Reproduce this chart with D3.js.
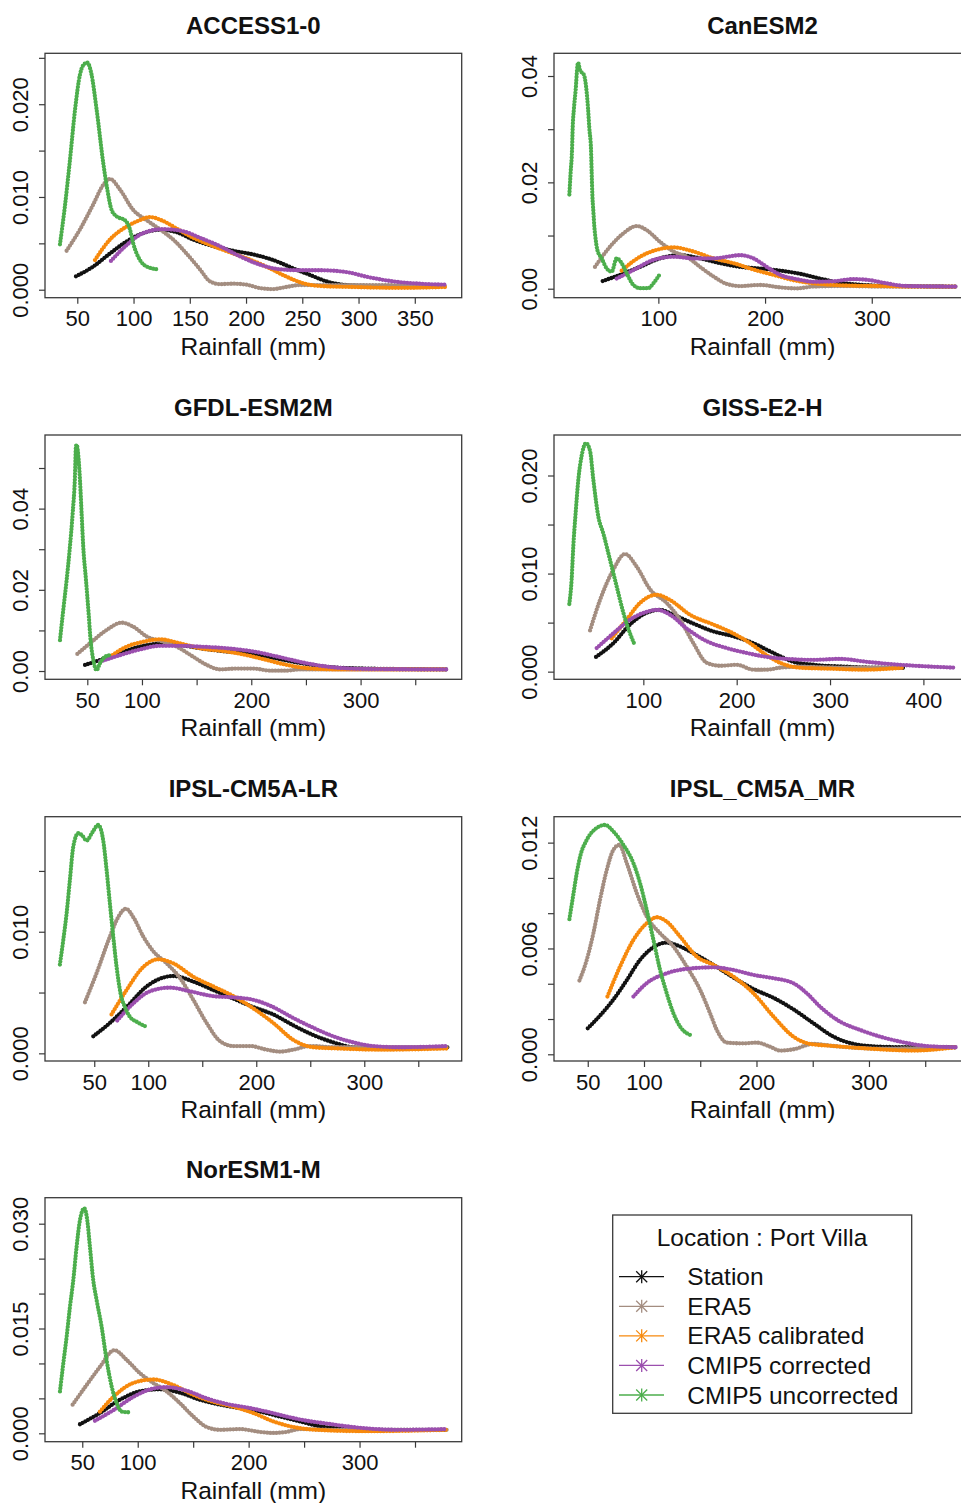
<!DOCTYPE html>
<html>
<head>
<meta charset="utf-8">
<script src="https://cdn.jsdelivr.net/npm/d3@7"></script>
<style>
  html, body { margin: 0; padding: 0; background: #fff; }
  svg { display: block; font-family: "Liberation Sans", Arial, Helvetica, sans-serif; }
</style>
</head>
<body>
<svg id="chart" width="961" height="1503"></svg>
<script>
// Monthly rainfall density curves, Port Villa: [rainfall (mm), density]

// ACCESS1-0
const accessStation = [[48.8,0.00144],[64.2,0.0025],[79,0.0039],[93.8,0.0052],[108.6,0.0061],[123.4,0.00646],[138.2,0.0062],[153,0.0054],[170.8,0.0047],[188.6,0.0042],[206.4,0.0038],[224.1,0.0032],[241.9,0.0023],[256.7,0.0016],[271.5,0.0009],[289.3,0.0005],[321.8,0.0004],[351.5,0.00047],[378,0.00047]];
const accessEra5 = [[40.5,0.0042],[52.4,0.0065],[64.2,0.0092],[73.1,0.0113],[79,0.01195],[87.9,0.0108],[99.7,0.0086],[111.6,0.0075],[123.4,0.0065],[135.3,0.0054],[147.1,0.0039],[159,0.0022],[167.9,0.0009],[176.7,0.0006],[188.6,0.00065],[200.4,0.00054],[212.3,0.00018],[224.1,0.00007],[236,0.0003],[247.8,0.0005],[300,0.0005],[378,0.0004]];
const accessEra5Cal = [[65.7,0.0032],[79,0.0054],[93.8,0.0068],[105.7,0.0075],[114.6,0.00783],[126.4,0.0074],[138.2,0.0066],[153,0.0056],[170.8,0.0047],[188.6,0.0039],[206.4,0.0031],[221.2,0.0023],[236,0.0014],[250.8,0.0007],[265.6,0.0004],[292.2,0.0003],[336.6,0.0002],[378,0.0003]];
const accessCorr = [[79.9,0.0031],[93.8,0.0048],[108.6,0.0061],[126.4,0.00653],[144.2,0.0063],[159,0.0056],[176.7,0.0047],[194.5,0.0036],[212.3,0.0027],[230,0.0022],[247.8,0.0021],[265.6,0.0021],[289.3,0.0019],[307.1,0.0014],[330.7,0.0009],[354.4,0.00065],[378,0.00054]];
const accessUncorr = [[34.6,0.0049],[39,0.009],[43.5,0.014],[48,0.0194],[52.4,0.0232],[55.3,0.0242],[58.9,0.02448],[62.5,0.0233],[67.2,0.0194],[73.1,0.01364],[76.7,0.0108],[80.5,0.0086],[85,0.0079],[92.3,0.0075],[96.8,0.0065],[99.7,0.005],[105.7,0.0032],[111.6,0.0025],[121.1,0.0022]];

// CanESM2
const canStation = [[47.8,0.00144],[64,0.0026],[82.8,0.0041],[101.6,0.0057],[120.3,0.0063],[139.1,0.0057],[157.8,0.0048],[176.6,0.0041],[195.3,0.0038],[214.1,0.0034],[232.8,0.0028],[251.6,0.0019],[270.3,0.0011],[292.2,0.0007],[323.4,0.0005],[379,0.0004]];
const canEra5 = [[40.6,0.0041],[54.7,0.0079],[67.2,0.0104],[79.7,0.01179],[89.1,0.011],[101.6,0.0088],[114.1,0.007],[126.6,0.006],[139.1,0.0041],[151.6,0.0023],[164.1,0.0009],[176.6,0.0005],[195.3,0.0007],[214.1,0.00025],[229.7,0.00006],[245.3,0.0004],[276.6,0.0005],[307.8,0.0004],[379,0.0004]];
const canEra5Cal = [[65.6,0.0034],[82.8,0.006],[98.4,0.0073],[114.1,0.00777],[132.8,0.007],[151.6,0.0057],[170.3,0.0048],[189.1,0.0036],[207.8,0.0026],[226.6,0.0016],[245.3,0.001],[276.6,0.0006],[307.8,0.0005],[339,0.0004],[379,0.0004]];
const canCorr = [[60.9,0.0019],[76.6,0.0035],[95.3,0.0054],[114.1,0.006],[132.8,0.0057],[151.6,0.0057],[164.1,0.006],[176.6,0.0063],[189.1,0.0057],[201.6,0.0041],[214.1,0.0026],[229.7,0.0018],[245.3,0.0013],[264.1,0.0014],[282.8,0.0018],[298.4,0.0016],[314.1,0.001],[332.8,0.0005],[379,0.0004]];
const canUncorr = [[16.6,0.0177],[17.8,0.0219],[19.1,0.0261],[19.7,0.0302],[20.9,0.0339],[22.5,0.0374],[24.1,0.0418],[24.7,0.0425],[26.6,0.0411],[30.3,0.0402],[32.8,0.037],[34.1,0.0339],[35.3,0.0302],[36.9,0.0261],[37.5,0.0219],[38.1,0.0179],[39.1,0.0145],[40,0.0117],[41.3,0.0092],[42.8,0.0073],[46.9,0.0057],[51.6,0.0038],[56.3,0.0032],[60.9,0.0057],[65.6,0.0048],[70.3,0.0029],[76.6,0.0007],[82.8,0.0001],[90.6,0.0001],[95.3,0.001],[101.6,0.0028]];

// GFDL-ESM2M
const gfdlStation = [[47.9,0.0015],[61.6,0.0027],[79.9,0.0044],[98.2,0.006],[116.5,0.0067],[134.8,0.0064],[153.1,0.0056],[177.5,0.0048],[201.9,0.0042],[226.3,0.0029],[250.7,0.0017],[275.1,0.0009],[305.6,0.0006],[378.8,0.0004]];
const gfdlEra5 = [[40.9,0.0042],[52.4,0.0068],[67.7,0.0101],[81.4,0.0119],[92.1,0.0109],[104.3,0.0085],[119.5,0.0072],[131.7,0.006],[146.9,0.0035],[159.2,0.0015],[171.4,0.0004],[186.6,0.0006],[201.9,0.0006],[217.1,0.0001],[232.4,0.0001],[244.6,0.0004],[275,0.0004],[378.8,0.0004]];
const gfdlEra5Cal = [[70.7,0.0035],[86,0.006],[101.2,0.0072],[116.5,0.0078],[134.8,0.0068],[153.1,0.0056],[177.5,0.0048],[195.8,0.0039],[214.1,0.0027],[232.4,0.0015],[250.7,0.0007],[275.1,0.0004],[378.8,0.0004]];
const gfdlCorr = [[61.6,0.0023],[79.9,0.0039],[98.2,0.0053],[116.5,0.0062],[134.8,0.0062],[153.1,0.006],[177.5,0.0056],[201.9,0.0048],[226.3,0.0034],[250.7,0.0019],[275.1,0.0009],[305.6,0.0005],[378.8,0.0004]];
const gfdlUncorr = [[25,0.0076],[28,0.015],[31.1,0.0224],[34.1,0.0306],[36.6,0.0388],[38.7,0.0479],[39.6,0.0553],[40.2,0.0557],[42.1,0.052],[43.3,0.047],[44.8,0.0388],[46.3,0.0306],[48.8,0.0224],[51.2,0.0142],[53,0.0076],[55.5,0.0027],[58.5,0.0002],[61.6,0.0019],[66.2,0.0035],[70.7,0.0039]];

// GISS-E2-H
const gissStation = [[49.3,0.0015],[67.9,0.0029],[85.7,0.0048],[103.6,0.006],[117.9,0.0063],[132.1,0.0058],[153.6,0.0049],[175,0.0041],[196.4,0.0036],[217.9,0.0029],[239.3,0.0019],[260.7,0.001],[282.1,0.0007],[317.9,0.0005],[353.6,0.0004],[378.6,0.0004]];
const gissEra5 = [[42.9,0.0042],[53.6,0.0073],[67.9,0.0104],[80.4,0.012],[92.9,0.0107],[107.1,0.0084],[125,0.007],[139.3,0.0053],[153.6,0.0029],[167.9,0.0009],[182.1,0.0006],[200,0.0007],[217.9,0.0002],[232.1,0.0002],[246.4,0.0004],[267.9,0.0005],[317.9,0.0004],[378.6,0.0004]];
const gissEra5Cal = [[66.1,0.0034],[82.1,0.0053],[96.4,0.007],[114.3,0.00784],[128.6,0.0073],[150,0.0058],[175,0.0048],[196.4,0.0039],[214.3,0.0029],[228.6,0.0019],[246.4,0.0009],[267.9,0.0004],[300,0.0003],[335.7,0.0002],[378.6,0.0004]];
const gissCorr = [[50,0.0024],[67.9,0.0039],[85.7,0.0053],[103.6,0.0061],[114.3,0.0063],[128.6,0.0058],[146.4,0.0044],[167.9,0.0031],[189.3,0.0024],[210.7,0.0019],[232.1,0.0015],[253.6,0.0013],[282.1,0.0012],[310.7,0.0013],[339.3,0.001],[375,0.0007],[435,0.0004]];
const gissUncorr = [[20.7,0.0069],[23.2,0.0094],[25,0.0128],[27.5,0.0162],[30.4,0.0196],[33.9,0.022],[38.6,0.0233],[42.9,0.0225],[46.4,0.0196],[51.8,0.0158],[57.1,0.0141],[64.3,0.0114],[71.4,0.0087],[78.6,0.006],[85.7,0.0039],[90,0.0029]];

// IPSL-CM5A-LR
const ipslLrStation = [[49.1,0.0014],[64.5,0.0025],[79.9,0.0038],[98.5,0.0055],[117,0.0063],[123.1,0.00636],[141.7,0.0059],[160.2,0.0052],[178.7,0.0045],[197.2,0.0038],[215.7,0.0032],[234.3,0.0023],[252.8,0.0015],[271.3,0.0009],[289.8,0.0005],[317.6,0.0004],[377.8,0.0005]];
const ipslLrEra5 = [[41.4,0.0042],[52.2,0.0066],[64.5,0.0096],[72.2,0.0112],[79.3,0.0119],[86.1,0.0112],[95.4,0.0096],[104.6,0.0084],[117,0.0074],[129.3,0.0062],[141.7,0.0044],[154,0.0025],[166.4,0.001],[178.7,0.0006],[194.1,0.0006],[209.6,0.0003],[221.9,0.00014],[234.3,0.0003],[249.7,0.0006],[271.3,0.0005],[377.8,0.0005]];
const ipslLrEra5Cal = [[66,0.0032],[79.9,0.0052],[95.4,0.0071],[109.3,0.00773],[123.1,0.0074],[141.7,0.0063],[160.2,0.0055],[178.7,0.0047],[197.2,0.0037],[215.7,0.0025],[234.3,0.0011],[252.8,0.0005],[275.5,0.0004],[315.6,0.0003],[377.8,0.0004]];
const ipslLrCorr = [[71.3,0.0027],[86.1,0.0041],[101.5,0.0051],[120.1,0.0054],[138.6,0.0051],[160.2,0.0047],[178.7,0.0046],[197.2,0.0044],[215.7,0.0038],[234.3,0.0029],[252.8,0.0021],[271.3,0.0014],[289.8,0.0009],[308.3,0.0006],[333,0.0005],[377.8,0.0006]];
const ipslLrUncorr = [[18.2,0.0073],[21.3,0.0093],[24.4,0.0115],[27.5,0.0143],[30.6,0.017],[35.2,0.0181],[39,0.0179],[42.9,0.0175],[48.5,0.0182],[53.7,0.01878],[58.3,0.0175],[61.4,0.0151],[64.5,0.0123],[67.6,0.0096],[70.7,0.0071],[74.4,0.0049],[78.4,0.0038],[83,0.003],[89.2,0.0026],[97.8,0.0022]];

// IPSL_CM5A_MR
const ipslMrStation = [[50,0.00147],[61,0.0022],[72.8,0.0031],[84.7,0.0042],[96.5,0.00535],[108.4,0.00607],[120.2,0.00633],[132.1,0.00611],[143.9,0.00573],[161.7,0.00507],[179.5,0.00435],[197.3,0.0037],[215.1,0.0032],[232.8,0.00255],[250.6,0.00176],[268.4,0.001],[286.2,0.00059],[309.9,0.00043],[339.5,0.0004],[377.5,0.0004]];
const ipslMrEra5 = [[42.6,0.00418],[49.1,0.00535],[55,0.00686],[60.9,0.00875],[66.9,0.01045],[72.8,0.01159],[78.1,0.01187],[84.7,0.01083],[93.6,0.00913],[102.4,0.00781],[114.3,0.00686],[126.1,0.00611],[138,0.00497],[149.9,0.00365],[158.7,0.00233],[164.7,0.00138],[173.6,0.00066],[188.4,0.00062],[200.2,0.00066],[212.1,0.00043],[221,0.00021],[232.8,0.00028],[250.6,0.00059],[268.4,0.00047],[309.9,0.00032],[377.5,0.0004]];
const ipslMrEra5Cal = [[67.5,0.00327],[78.7,0.00497],[90.6,0.00648],[102.4,0.00743],[111.3,0.00777],[120.2,0.00752],[132.1,0.00667],[146.9,0.00554],[161.7,0.00507],[179.5,0.0044],[197.3,0.00346],[215.1,0.00214],[232.8,0.001],[247.6,0.00059],[268.4,0.00047],[295,0.00034],[339.5,0.00021],[377.5,0.0004]];
const ipslMrCorr = [[90.6,0.00327],[102.4,0.00403],[120.2,0.00459],[143.9,0.00488],[161.7,0.00493],[179.5,0.00478],[197.3,0.0045],[215.1,0.00431],[232.8,0.00403],[244.7,0.00346],[256.5,0.0027],[274.3,0.00185],[292.1,0.00138],[309.9,0.001],[327.6,0.00072],[351.3,0.00047],[377.5,0.0004]];
const ipslMrUncorr = [[33.7,0.00766],[37.3,0.0091],[40.2,0.01026],[43.2,0.0112],[49.1,0.01215],[56.5,0.01276],[65.4,0.013],[72.8,0.01263],[81.7,0.01187],[90.6,0.01083],[96.5,0.0097],[102.4,0.00819],[108.4,0.00648],[114.3,0.00478],[120.2,0.00346],[126.1,0.00233],[132.1,0.00157],[143.3,0.00104]];

// NorESM1-M
const norStation = [[47.9,0.0013],[65.9,0.0029],[83.9,0.0048],[102,0.006],[120,0.0063],[138.1,0.0058],[156.1,0.0048],[174.1,0.0041],[192.2,0.0036],[210.2,0.0031],[228.2,0.0024],[246.3,0.0017],[264.3,0.001],[282.3,0.0007],[306.4,0.0005],[378.5,0.0005]];
const norEra5 = [[41.3,0.0041],[53.9,0.0069],[65.9,0.0095],[78.9,0.0119],[90,0.0105],[102,0.0086],[114,0.0072],[126,0.006],[138.1,0.0043],[150.1,0.0024],[162.1,0.0009],[174.1,0.0005],[192.2,0.0006],[210.2,0.0002],[222.2,0.00005],[234.2,0.0002],[246.3,0.0006],[276.3,0.0005],[378.5,0.0005]];
const norEra5Cal = [[65.9,0.0031],[78,0.0052],[96,0.0072],[114,0.0077],[132.1,0.0069],[150.1,0.0055],[168.1,0.0045],[186.2,0.0038],[204.2,0.0029],[222.2,0.0017],[240.3,0.0009],[261.3,0.0005],[306.4,0.0003],[378.5,0.0005]];
const norCorr = [[61.4,0.0018],[78,0.0033],[96,0.0052],[114,0.0064],[126,0.0066],[144.1,0.0061],[162.1,0.005],[180.2,0.0042],[198.2,0.0037],[216.2,0.0031],[234.2,0.0024],[252.3,0.0018],[270.3,0.0014],[288.4,0.001],[306.4,0.0007],[336.5,0.0005],[378.5,0.0006]];
const norUncorr = [[29.9,0.006],[32.9,0.01],[35.9,0.0138],[38.9,0.0181],[41.9,0.0219],[44.9,0.0267],[47.9,0.0305],[51.8,0.0322],[54.5,0.0305],[56.9,0.0267],[59.9,0.0219],[62.9,0.0191],[67.4,0.0153],[71.9,0.0105],[76.5,0.0067],[81,0.0043],[85.5,0.0031],[93.6,0.003]];

// Series names and colours (legend order)
const seriesNames = ["Station", "ERA5", "ERA5 calibrated", "CMIP5 corrected", "CMIP5 uncorrected"];
const seriesColors = ["#111111", "#a38d80", "#f7890c", "#9b4fae", "#4cae4c"];

// Panel titles and tick values
const panelTitles = ["ACCESS1-0", "CanESM2", "GFDL-ESM2M", "GISS-E2-H", "IPSL-CM5A-LR", "IPSL_CM5A_MR", "NorESM1-M"];
const xTickSets = [
  [50,100,150,200,250,300,350], [100,200,300], [50,100,150,200,250,300,350],
  [100,200,300,400], [50,100,150,200,250,300,350], [50,100,150,200,250,300,350], [50,100,150,200,250,300,350]
];
const xLabelSets = [
  [50,100,150,200,250,300,350], [100,200,300], [50,100,200,300],
  [100,200,300,400], [50,100,200,300], [50,100,200,300], [50,100,200,300]
];
const yTickSets = [
  [0,0.005,0.01,0.015,0.02,0.025], [0,0.01,0.02,0.03,0.04], [0,0.01,0.02,0.03,0.04,0.05],
  [0,0.005,0.01,0.015,0.02], [0,0.005,0.01,0.015], [0,0.002,0.004,0.006,0.008,0.01,0.012], [0,0.005,0.01,0.015,0.02,0.025,0.03]
];
const yLabelSets = [
  [0,0.01,0.02], [0,0.02,0.04], [0,0.02,0.04],
  [0,0.01,0.02], [0,0.01], [0,0.006,0.012], [0,0.015,0.03]
];
const yDecimals = [3, 2, 2, 3, 3, 3, 3];

// Series per panel, drawn in this order (station first, uncorrected model on top)
const panelSeries = [
  [accessStation, accessEra5, accessEra5Cal, accessCorr, accessUncorr],
  [canStation, canEra5, canEra5Cal, canCorr, canUncorr],
  [gfdlStation, gfdlEra5, gfdlEra5Cal, gfdlCorr, gfdlUncorr],
  [gissStation, gissEra5, gissEra5Cal, gissCorr, gissUncorr],
  [ipslLrStation, ipslLrEra5, ipslLrEra5Cal, ipslLrCorr, ipslLrUncorr],
  [ipslMrStation, ipslMrEra5, ipslMrEra5Cal, ipslMrCorr, ipslMrUncorr],
  [norStation, norEra5, norEra5Cal, norCorr, norUncorr]
];

// Axis ranges (plot region extends a little beyond the data)
const xRanges = [[21.3,391.7],[2.2,393],[11.3,392.5],[4.3,451],[4.4,390.2],[20,390.7],[16.4,392.1]];
const yRanges = [[-0.00086,0.02549],[-0.00169,0.04427],[-0.00204,0.05813],[-0.00078,0.02413],[-0.00063,0.01946],[-0.00038,0.01347],[-0.0012,0.03372]];

// ---- layout ----
const colX = [[45, 461.7], [554, 971]];
const rowY = [[53.3, 297.7], [435, 679.3], [816.7, 1061], [1197.7, 1441.7]];
const frameColor = "#3a3a3a";
const textColor = "#111";

const svg = d3.select("#chart");
svg.append("rect").attr("width", 961).attr("height", 1503).attr("fill", "#fff");

panelTitles.forEach((title, i) => {
  const [x0, x1] = colX[i % 2];
  const [y0, y1] = rowY[Math.floor(i / 2)];
  const x = d3.scaleLinear().domain(xRanges[i]).range([x0, x1]);
  const y = d3.scaleLinear().domain(yRanges[i]).range([y1, y0]);
  const g = svg.append("g");

  const clipId = "clip" + i;
  g.append("clipPath").attr("id", clipId)
    .append("rect").attr("x", x0).attr("y", y0).attr("width", x1 - x0).attr("height", y1 - y0);

  // curves drawn as chains of round dots
  const line = d3.line().x(d => x(d[0])).y(d => y(d[1])).curve(d3.curveMonotoneX);
  const curves = g.append("g").attr("clip-path", `url(#${clipId})`);
  panelSeries[i].forEach((data, s) => {
    curves.append("path")
      .attr("d", line(data))
      .attr("fill", "none")
      .attr("stroke", seriesColors[s])
      .attr("stroke-width", 4.3)
      .attr("stroke-linecap", "round")
      .attr("stroke-dasharray", "0 3.1");
  });

  // x axis
  const xAxis = d3.axisBottom(x).tickValues(xTickSets[i]).tickSize(6).tickPadding(4)
    .tickFormat(v => xLabelSets[i].includes(v) ? String(v) : "");
  const gx = g.append("g").attr("transform", `translate(0,${y1})`).call(xAxis);
  gx.select(".domain").remove();
  gx.selectAll(".tick line").attr("stroke", frameColor).attr("stroke-width", 1.2);
  gx.selectAll(".tick text").attr("font-size", 22).attr("fill", textColor)
    .attr("dy", null).attr("y", 21).attr("dominant-baseline", "central")
    .attr("font-family", "'Liberation Sans', Arial, sans-serif");

  // y axis, labels rotated to read upwards
  const fmt = d3.format("." + yDecimals[i] + "f");
  const yAxis = d3.axisLeft(y).tickValues(yTickSets[i]).tickSize(6)
    .tickFormat(v => yLabelSets[i].some(l => Math.abs(l - v) < 1e-9) ? fmt(v) : "");
  const gy = g.append("g").attr("transform", `translate(${x0},0)`).call(yAxis);
  gy.select(".domain").remove();
  gy.selectAll(".tick line").attr("stroke", frameColor).attr("stroke-width", 1.2);
  gy.selectAll(".tick text")
    .attr("x", null).attr("dy", null)
    .attr("transform", "translate(-25,0) rotate(-90)")
    .attr("text-anchor", "middle").attr("dominant-baseline", "central")
    .attr("font-size", 22).attr("fill", textColor)
    .attr("font-family", "'Liberation Sans', Arial, sans-serif");

  // frame
  g.append("rect").attr("x", x0).attr("y", y0).attr("width", x1 - x0).attr("height", y1 - y0)
    .attr("fill", "none").attr("stroke", frameColor).attr("stroke-width", 1.3);

  // title and x label
  g.append("text").attr("x", (x0 + x1) / 2).attr("y", y0 - 28)
    .attr("text-anchor", "middle").attr("dominant-baseline", "central")
    .attr("font-size", 24).attr("font-weight", "bold").attr("fill", textColor).text(title);
  g.append("text").attr("x", (x0 + x1) / 2).attr("y", y1 + 48.5)
    .attr("text-anchor", "middle").attr("dominant-baseline", "central")
    .attr("font-size", 24.5).attr("fill", textColor).text("Rainfall (mm)");
});

// ---- legend ----
const lg = svg.append("g");
const lgBox = { x: 612.7, y: 1215, w: 299, h: 198.3 };
lg.append("rect").attr("x", lgBox.x).attr("y", lgBox.y).attr("width", lgBox.w).attr("height", lgBox.h)
  .attr("fill", "#fff").attr("stroke", frameColor).attr("stroke-width", 1.3);
lg.append("text").attr("x", 762).attr("y", 1237.5)
  .attr("text-anchor", "middle").attr("dominant-baseline", "central")
  .attr("font-size", 24.5).attr("fill", textColor).text("Location : Port Villa");

const legendRow = d3.scaleLinear().domain([0, seriesNames.length - 1]).range([1276.7, 1395]);
seriesNames.forEach((name, s) => {
  const cy = legendRow(s), cx = 641.7, r = 5.5;
  const item = lg.append("g").attr("stroke", seriesColors[s]).attr("stroke-width", 1.3);
  item.append("line").attr("x1", 619).attr("x2", 664).attr("y1", cy).attr("y2", cy);
  item.append("line").attr("x1", cx).attr("x2", cx).attr("y1", cy - r - 1).attr("y2", cy + r + 1);
  item.append("line").attr("x1", cx - r).attr("x2", cx + r).attr("y1", cy - r).attr("y2", cy + r);
  item.append("line").attr("x1", cx - r).attr("x2", cx + r).attr("y1", cy + r).attr("y2", cy - r);
  lg.append("text").attr("x", 687.3).attr("y", cy)
    .attr("dominant-baseline", "central").attr("font-size", 24.5).attr("fill", textColor).text(name);
});
</script>
</body>
</html>
